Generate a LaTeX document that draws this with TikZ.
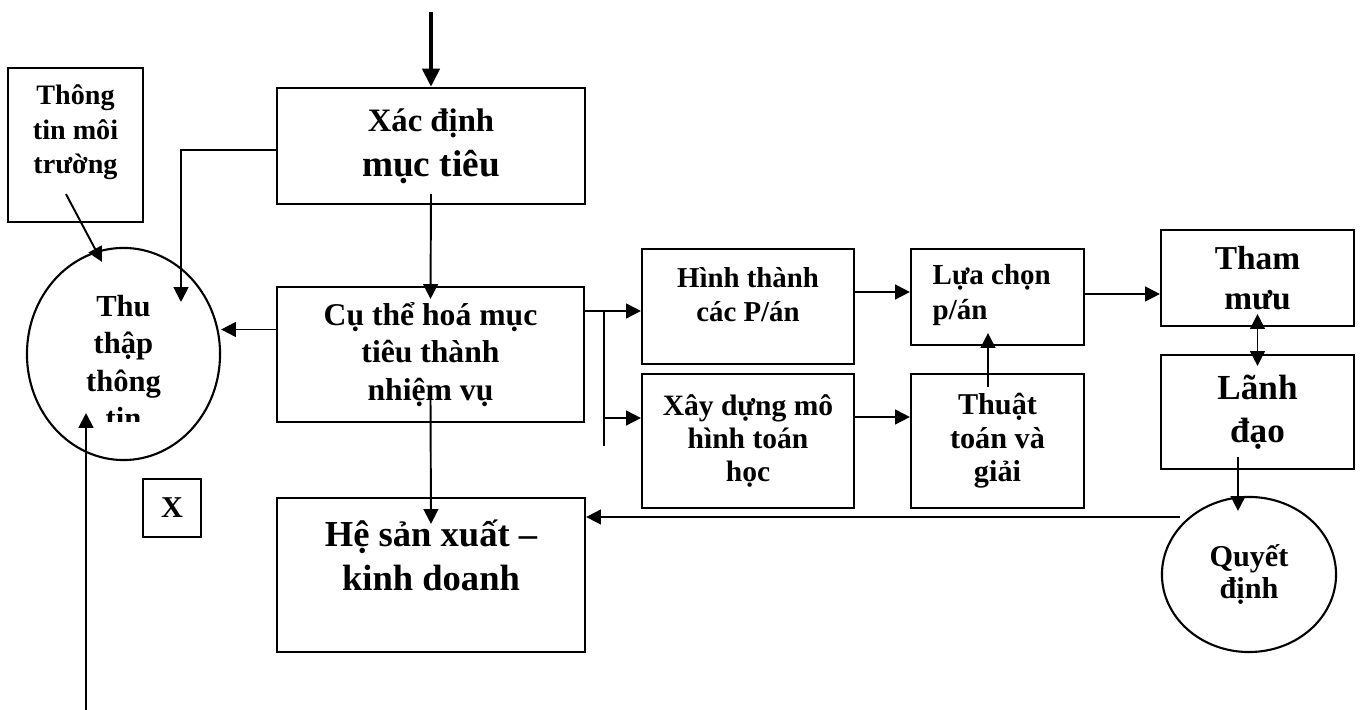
\documentclass[tikz,border=0pt]{standalone}
\usepackage{fontspec}
\setmainfont{Liberation Serif}
\usetikzlibrary{
  arrows.meta,
  calc,
  positioning,
  shapes.geometric,
}
\newcommand{\fsz}[2]{\fontsize{#1}{#2}\selectfont\bfseries}
\tikzset{
  >={Triangle[length=4.2pt, width=4.2pt]},
  box/.style={draw, line width=0.6pt, inner sep=0pt, align=center},
  oval/.style={draw, ellipse, line width=0.6pt, inner sep=0pt, align=center},
  txt/.style={inner sep=0pt, align=center},
  link/.style={->, line width=0.55pt},
}

\begin{document}
\begin{tikzpicture}[x=0.01cm, y=-0.01cm]
  \useasboundingbox (0,0) rectangle (1360,710);

  % boxes
  \node [box, minimum width=3.08cm, minimum height=1.16cm, font=\fsz{9.3}{12.8}] (xac) at (431,146)
    {Xác định\\{\fontsize{10.6}{12.8}\selectfont mục tiêu}};
  \node [box, minimum width=3.07cm, minimum height=1.35cm, font=\fsz{9}{10.7}] (cuthe) at (430.5,354.5)
    {Cụ thể hoá mục\\tiêu thành\\nhiệm vụ};
  \node [box, minimum width=3.08cm, minimum height=1.54cm] (he) at (431,575) {};
  \node [txt, font=\fsz{10.4}{12.5}] (hetext) at (431,555) {Hệ sản xuất –\\kinh doanh};
  \node [box, minimum width=1.35cm, minimum height=1.54cm] (thong) at (75.5,145) {};
  \node [txt, font=\fsz{8}{9.8}] (thongtext) at (75.5,132.5) {Thông\\tin môi\\trường};
  \node [oval, minimum width=1.93cm, minimum height=2.12cm] (thu) at (123.5,354) {};
  \begin{scope}
    \clip (0,0) rectangle (1360,422);
    \node [txt, font=\fsz{8.7}{10.7}] (thutext) at (123.5,362) {Thu\\thập\\thông\\tin};
  \end{scope}
  \node [box, minimum width=0.58cm, minimum height=0.58cm, font=\fsz{8.6}{10}] (x) at (172,508) {X};

  \node [box, minimum width=2.12cm, minimum height=1.15cm] (hinh) at (748,306.5) {};
  \node [txt, font=\fsz{8.2}{9.7}] (hinhtext) at (748,295) {Hình thành\\các P/án};
  \node [box, minimum width=2.12cm, minimum height=1.34cm, font=\fsz{8.4}{9.5}] (xay) at (748,441)
    {Xây dựng mô\\hình toán\\học};
  \node [box, minimum width=1.73cm, minimum height=0.96cm] (lua) at (997.5,297) {};
  \node [txt, align=left, anchor=west, font=\fsz{8.25}{9.7}] (luatext) at (932,295) {Lựa chọn\\p/án};
  \node [box, minimum width=1.73cm, minimum height=1.34cm, font=\fsz{8.6}{9.5}] (thuat) at (997.5,441)
    {Thuật\\toán và\\giải};
  \node [box, minimum width=1.93cm, minimum height=0.96cm, font=\fsz{9.5}{11.4}] (tham) at (1257.5,278)
    {Tham\\mưu};
  \node [box, minimum width=1.93cm, minimum height=1.14cm, font=\fsz{10}{12.2}] (lanh) at (1257.5,412)
    {Lãnh\\đạo};
  \node [oval, minimum width=1.74cm, minimum height=1.55cm, font=\fsz{8.6}{9.1}] (quyet) at (1249,574.5)
    {Quyết\\định};

  % arrows
  \coordinate (top) at (431,12);
  \coordinate (bot) at (86,710);
  \draw [line width=1.4pt, -{Triangle[length=5.2pt, width=4.8pt]}] (top) -- (xac.north);
  \draw [link] ($(xac.south)+(0,-11)$) -- ($(cuthe.north)+(0,13)$);
  \draw [link] ($(xac.west)+(0,4)$) -| ($(thu.center)+(57.5,-52)$);
  \draw [link] ($(cuthe.west)+(0,-25)$) coordinate (c1) -- (c1 -| thu.east);
  \draw [link] ($(cuthe.south)+(0,-25)$) -- ($(he.north)+(0,27)$);
  \draw [link] ($(thong.south)+(-9.5,-29)$) -- ($(thu.center)+(-21.5,-92)$);
  \draw [link] (bot) -- ($(thu.center)+(-37.5,59)$);

  \coordinate (fork) at (604,311);
  \draw [line width=0.55pt] (cuthe.east |- fork) -- (fork) -- (604,446);
  \draw [link] (fork) -- (fork -| hinh.west);
  \draw [link] (604,418) coordinate (f2) -- (f2 -| xay.west);
  \draw [link] ($(hinh.east)+(0,-14.5)$) coordinate (h1) -- (h1 -| lua.west);
  \draw [link] ($(xay.east)+(0,-24)$) coordinate (x1) -- (x1 -| thuat.west);
  \draw [link] ($(thuat.north)+(-9.5,14)$) -- ($(lua.south)+(-9.5,-13)$);
  \draw [link] ($(lua.east)+(0,-3)$) coordinate (l1) -- (l1 -| tham.west);
  \draw [link, <->] ($(tham.south)+(0,-13)$) -- ($(lanh.north)+(0,12)$);
  \draw [link] ($(lanh.south)+(-19.5,-13)$) -- ($(quyet.north)+(-11,15)$);
  \draw [link] ($(quyet.west)+(19,-57.5)$) coordinate (q1) -- (q1 -| he.east);
\end{tikzpicture}
\end{document}
